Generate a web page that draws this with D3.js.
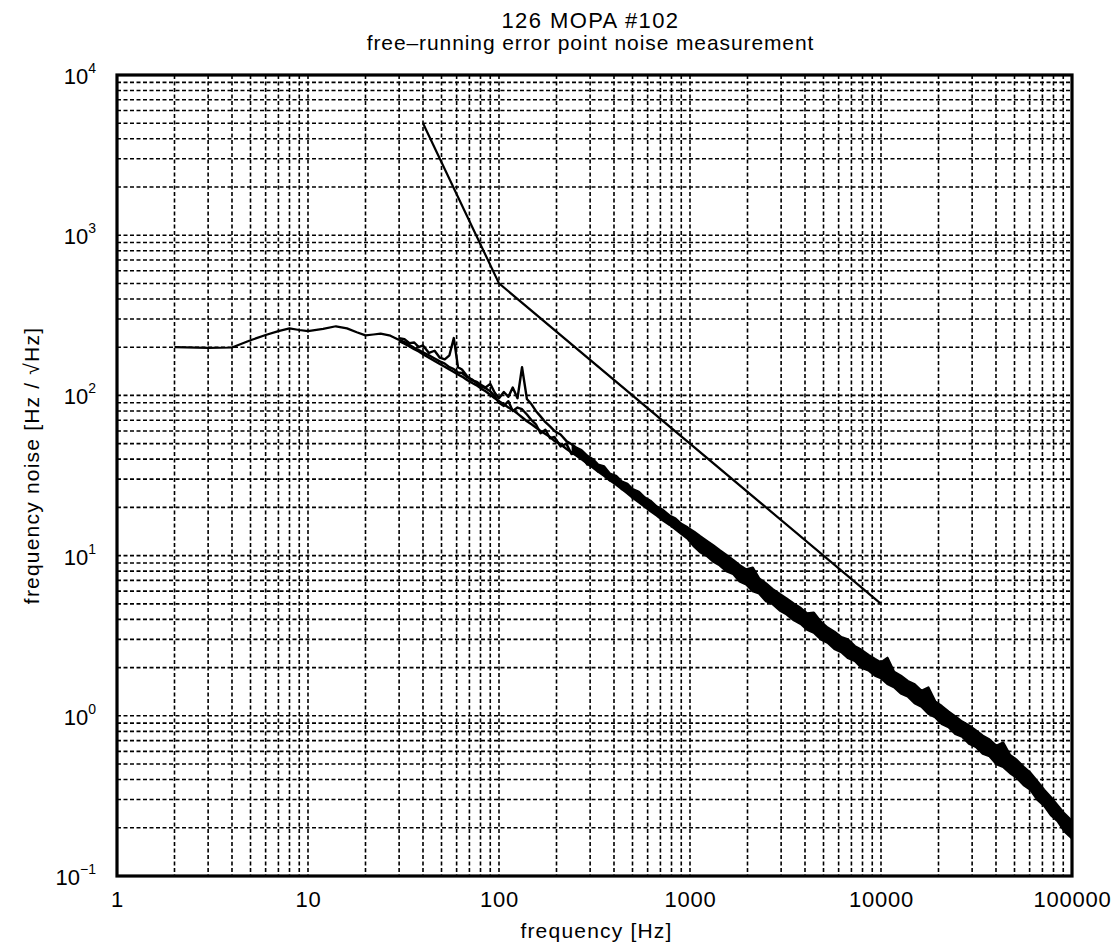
<!DOCTYPE html>
<html>
<head>
<meta charset="utf-8">
<script src="https://cdn.jsdelivr.net/npm/d3@7"></script>
<style>
  body { margin: 0; background: #fff; }
  text { font-family: "Liberation Sans", Arial, sans-serif; fill: #000; }
</style>
</head>
<body>
<div id="chart"></div>
<script>
// tick labels
var xTickValues = [1, 10, 100, 1000, 10000, 100000];
var yTickExponents = [-1, 0, 1, 2, 3, 4];

// low frequency part of the measurement (Hz, Hz/rtHz)
var lowFreq = [2, 3, 4, 5, 6, 7, 8, 9, 10, 12, 14, 16, 18, 20, 22, 24, 27, 30];
var lowVals = [200, 198, 199, 221, 238, 252, 262, 256, 252, 260, 270, 262, 248, 237, 240, 243, 236, 222];

// reference line
var refFreq = [40, 100, 10000];
var refVals = [5000, 500, 5];

// shared frequency points of the noisy traces
var noiseFreq = [30, 32, 34, 36, 38, 40, 43, 46, 49, 52, 55, 58, 61, 64, 68, 72, 76, 80, 85, 90, 95,
  100, 106, 112, 118, 125, 132, 140, 148, 156, 165, 175, 185, 195, 210, 225, 240, 255, 270, 290,
  310, 330, 355, 380, 410, 440, 470, 500, 540, 580, 620, 670, 720, 780, 840, 900, 970,
  1050, 1130, 1220, 1320, 1430, 1550, 1680, 1820, 1970, 2130, 2300, 2500, 2700, 2950,
  3200, 3500, 3800, 4100, 4450, 4850, 5250, 5700, 6200, 6700, 7300, 7900, 8600, 9300,
  10000, 10800, 11700, 12700, 13800, 15000, 16300, 17700, 19200, 20800, 22600, 24500,
  26600, 28900, 31400, 34100, 37000, 40200, 43600, 47300, 51400, 55800, 60600, 65800,
  71400, 77500, 84100, 91300, 100000];

// lower envelope trace
var traceA = [218, 210, 202, 194, 188, 181, 172, 164, 157, 151, 145, 140, 135, 131, 125, 120, 116, 111, 106, 101, 96,
  92, 88, 84, 81, 77, 73, 69, 66, 63, 60, 57.5, 55, 52, 49.5, 46.5, 44, 42, 40, 37.5,
  35.5, 33.5, 31.5, 29.5, 27.8, 26, 24.5, 23, 21.5, 20.2, 19, 17.8, 16.6, 15.6, 14.6, 13.7, 12.8,
  11.4, 10.5, 10.0, 9.2, 8.7, 8.0, 7.7, 6.9, 6.6, 6.0, 5.8, 5.2, 5.0, 4.55,
  4.3, 3.95, 3.75, 3.45, 3.3, 3.0, 2.86, 2.62, 2.5, 2.3, 2.2, 2.0, 1.92, 1.78,
  1.72, 1.58, 1.51, 1.38, 1.32, 1.2, 1.14, 1.03, 0.98, 0.89, 0.85, 0.77,
  0.74, 0.67, 0.64, 0.58, 0.56, 0.5, 0.48, 0.44, 0.41, 0.37, 0.345, 0.3,
  0.275, 0.24, 0.22, 0.19, 0.172];

// upper trace with the spikes
var traceB = [228, 224, 212, 214, 200, 205, 184, 190, 172, 168, 178, 228, 150, 145, 132, 124, 122, 117, 112, 118, 104,
  96, 105, 98, 112, 96, 150, 95, 88, 80, 74, 68, 64, 60, 57, 52, 49.5, 47, 45.5, 42,
  40, 37, 36, 32.5, 31.5, 29, 28, 26, 25, 23, 22, 20.2, 19.3, 17.8, 17, 15.8, 15,
  14.1, 13.2, 12.4, 11.6, 10.8, 10.1, 9.4, 8.7, 8.2, 8.4, 7.2, 6.7, 6.2, 5.75,
  5.4, 5.0, 4.7, 4.35, 4.4, 3.85, 3.55, 3.35, 3.1, 3.0, 2.72, 2.58, 2.4, 2.26,
  2.15, 2.3, 1.88, 1.78, 1.65, 1.57, 1.43, 1.5, 1.23, 1.15, 1.06, 0.99,
  0.92, 0.87, 0.81, 0.75, 0.71, 0.65, 0.68, 0.57, 0.53, 0.48, 0.44, 0.39,
  0.345, 0.31, 0.275, 0.245, 0.22];

// middle trace
var traceC = [222, 215, 206, 198, 192, 186, 178, 170, 163, 158, 150, 146, 139, 138, 130, 126, 120, 114, 111, 106, 99,
  90, 86, 92, 80, 84, 82, 76, 70, 66, 58, 61, 54, 55, 48, 50, 43, 44.5, 42, 37,
  38, 33.5, 33.5, 29.5, 29.5, 26, 26.5, 23, 23.5, 20.3, 20.8, 18, 18.2, 15.7, 16, 13.9, 14.1,
  13.1, 11.2, 11.7, 11.3, 9.3, 8.4, 8.8, 7.8, 7.0, 7.3, 6.5, 5.5, 6.05, 5.0,
  4.95, 4.2, 4.1, 4.17, 4.09, 3.3, 2.96, 3.07, 2.75, 2.83, 2.32, 2.31, 1.97, 2.12,
  2.15, 1.74, 1.59, 1.64, 1.47, 1.28, 1.36, 1.2, 1.05, 1.1, 0.89, 0.86,
  0.87, 0.71, 0.72, 0.72, 0.6, 0.59, 0.5, 0.54, 0.46, 0.4, 0.4, 0.33,
  0.31, 0.26, 0.26, 0.215, 0.196];

// the band between traceA and traceB is drawn solid from this frequency on
var bandStart = 240;

var W = 1116, H = 945;
var margin = { top: 75, right: 44, bottom: 69, left: 117 },
    width = W - margin.left - margin.right,
    height = H - margin.top - margin.bottom;

var root = d3.select("#chart").append("svg")
    .attr("width", W)
    .attr("height", H);

var svg = root.append("g")
    .attr("transform", "translate(" + margin.left + "," + margin.top + ")");

// scales
var xScale = d3.scaleLog().domain([1, 100000]).range([0, width]);
var yScale = d3.scaleLog().domain([0.1, 10000]).range([height, 0]);

// grid lines at every decade step
var xGrid = xScale.ticks().filter(function (d) { return d > 1 && d < 100000; });
var yGrid = yScale.ticks().filter(function (d) { return d > 0.1 && d < 10000; });

svg.append("g").attr("class", "grid")
    .selectAll("line.v").data(xGrid).enter().append("line")
    .attr("x1", function (d) { return xScale(d); })
    .attr("x2", function (d) { return xScale(d); })
    .attr("y1", 0).attr("y2", height)
    .attr("stroke", "#000").attr("stroke-width", 1.6)
    .attr("stroke-dasharray", "4,2.5");

svg.append("g").attr("class", "grid")
    .selectAll("line.h").data(yGrid).enter().append("line")
    .attr("y1", function (d) { return yScale(d); })
    .attr("y2", function (d) { return yScale(d); })
    .attr("x1", 0).attr("x2", width)
    .attr("stroke", "#000").attr("stroke-width", 1.6)
    .attr("stroke-dasharray", "4,2.5");

// lines
var line = d3.line()
    .x(function (d) { return xScale(d[0]); })
    .y(function (d) { return yScale(d[1]); });

function pairs(fs, vs) { return fs.map(function (f, i) { return [f, vs[i]]; }); }

svg.append("path").datum(pairs(lowFreq, lowVals))
    .attr("fill", "none").attr("stroke", "#000").attr("stroke-width", 2.2)
    .attr("stroke-linejoin", "round").attr("d", line);

svg.append("path").datum(pairs(refFreq, refVals))
    .attr("fill", "none").attr("stroke", "#000").attr("stroke-width", 2.2)
    .attr("d", line);

// solid noise band
var band = noiseFreq.map(function (f, i) { return { f: f, lo: traceA[i], hi: traceB[i] }; })
    .filter(function (d) { return d.f >= bandStart; });

var area = d3.area()
    .x(function (d) { return xScale(d.f); })
    .y0(function (d) { return yScale(d.lo); })
    .y1(function (d) { return yScale(d.hi); });

svg.append("path").datum(band)
    .attr("fill", "#000").attr("d", area);

[traceA, traceB, traceC].forEach(function (t) {
    svg.append("path").datum(pairs(noiseFreq, t))
        .attr("fill", "none").attr("stroke", "#000").attr("stroke-width", 2.4)
        .attr("stroke-linejoin", "round").attr("d", line);
});

// frame
svg.append("rect")
    .attr("width", width).attr("height", height)
    .attr("fill", "none").attr("stroke", "#000").attr("stroke-width", 3.2);

// x axis labels
var xAxis = d3.axisBottom(xScale)
    .tickValues(xTickValues)
    .tickSize(0)
    .tickPadding(15)
    .tickFormat(d3.format("d"));

svg.append("g")
    .attr("class", "x axis")
    .attr("transform", "translate(0," + height + ")")
    .call(xAxis)
    .call(function (g) { g.select(".domain").remove(); })
    .selectAll("text")
    .attr("font-size", 22)
    .attr("letter-spacing", 0.8)
    .style("font-family", "'Liberation Sans', Arial, sans-serif");

// y axis labels with superscripts
var yLab = svg.append("g").attr("class", "y axis")
    .selectAll("text").data(yTickExponents).enter().append("text")
    .attr("x", -21)
    .attr("y", function (d) { return yScale(Math.pow(10, d)) + 9; })
    .attr("text-anchor", "end")
    .attr("font-size", 22);
yLab.append("tspan").text("10");
yLab.append("tspan")
    .attr("dy", -11)
    .attr("font-size", 14)
    .text(function (d) { return d < 0 ? "\u2212" + Math.abs(d) : d; });

// titles
root.append("text")
    .attr("x", margin.left + width / 2 - 4).attr("y", 28)
    .attr("text-anchor", "middle").attr("font-size", 22)
    .attr("letter-spacing", 1.4)
    .text("126 MOPA #102");
root.append("text")
    .attr("x", margin.left + width / 2 - 4).attr("y", 50)
    .attr("text-anchor", "middle").attr("font-size", 21)
    .attr("letter-spacing", 0.9)
    .text("free\u2013running error point noise measurement");

root.append("text")
    .attr("x", margin.left + width / 2 + 2).attr("y", 938)
    .attr("text-anchor", "middle").attr("font-size", 21)
    .attr("letter-spacing", 1.2)
    .text("frequency [Hz]");

root.append("text")
    .attr("transform", "translate(39," + (margin.top + height / 2 - 10) + ") rotate(-90)")
    .attr("text-anchor", "middle").attr("font-size", 21)
    .attr("letter-spacing", 1.2)
    .text("frequency noise [Hz / \u221AHz]");
</script>
</body>
</html>
